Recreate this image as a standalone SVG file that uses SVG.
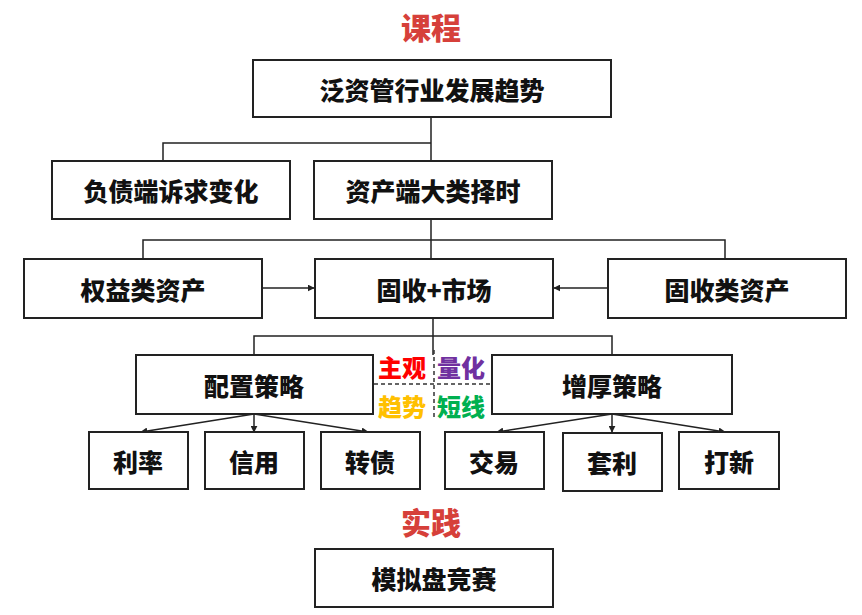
<svg xmlns="http://www.w3.org/2000/svg" width="862" height="615" viewBox="0 0 862 615">
<style>
.box{fill:#fff;stroke:#222;stroke-width:2}
.t{font-family:"Noto Sans CJK SC","Noto Sans",sans-serif;font-weight:900;font-size:25px;fill:#111;text-anchor:middle;dominant-baseline:central}
.h{font-family:"Noto Sans CJK SC","Noto Sans",sans-serif;font-weight:900;font-size:30px;fill:#d6403a;text-anchor:middle;dominant-baseline:central}
.c{font-family:"Noto Sans CJK SC","Noto Sans",sans-serif;font-weight:900;font-size:24px;text-anchor:middle;dominant-baseline:central}
.ln{fill:none;stroke:#222;stroke-width:1.5}
.ar{fill:none;stroke:#222;stroke-width:1.5;marker-end:url(#ah)}
.dash{fill:none;stroke:#333;stroke-width:1.5;stroke-dasharray:4,3}
</style>
<defs>
<marker id="ah" viewBox="0 0 10 10" refX="9" refY="5" markerWidth="7" markerHeight="7" markerUnits="userSpaceOnUse" orient="auto"><path d="M0,0 L10,5 L0,10 z" fill="#222"/></marker>
</defs>
<rect width="862" height="615" fill="#fff"/>
<text class="h" x="431" y="26">课程</text>
<text class="h" x="431" y="521">实践</text>
<g id="connectors">
<path class="ln" d="M431,117 V161 M163,161 V143 H431"/>
<path class="ln" d="M431,219 V259 M143,259 V240 H725 V259"/>
<path class="ar" d="M262,288 H314"/>
<path class="ar" d="M607,288 H554"/>
<path class="ln" d="M433,318 V355 M254,355 V336 H612 V355"/>
<path class="ar" d="M254,414 L141,432"/>
<path class="ar" d="M254,414 V432"/>
<path class="ar" d="M254,414 L368,432"/>
<path class="ar" d="M612,414 L497,432"/>
<path class="ar" d="M612,414 V432"/>
<path class="ar" d="M612,414 L725,432"/>
<path class="dash" d="M374,384 H491 M434,350 V418"/>
</g>
<g id="n-top"><rect class="box" x="253" y="60" width="358" height="57"/><text class="t" x="432" y="89">泛资管行业发展趋势</text></g>
<g id="n-liab"><rect class="box" x="52" y="161" width="238" height="58"/><text class="t" x="171" y="190">负债端诉求变化</text></g>
<g id="n-asset"><rect class="box" x="314" y="161" width="238" height="58"/><text class="t" x="433" y="190">资产端大类择时</text></g>
<g id="n-equity"><rect class="box" x="24" y="259" width="238" height="59"/><text class="t" x="143" y="289">权益类资产</text></g>
<g id="n-fiplus"><rect class="box" x="315" y="259" width="238" height="59"/><text class="t" x="434" y="289">固收+市场</text></g>
<g id="n-fi"><rect class="box" x="608" y="259" width="238" height="59"/><text class="t" x="727" y="289">固收类资产</text></g>
<g id="n-alloc"><rect class="box" x="136" y="355" width="237" height="59"/><text class="t" x="254" y="385">配置策略</text></g>
<g id="n-enh"><rect class="box" x="492" y="355" width="240" height="59"/><text class="t" x="612" y="385">增厚策略</text></g>
<g id="n-labels">
<text class="c" x="402" y="366" fill="#ff0000">主观</text>
<text class="c" x="461" y="366" fill="#7030a0">量化</text>
<text class="c" x="402" y="405" fill="#ffc000">趋势</text>
<text class="c" x="461" y="405" fill="#00b050">短线</text>
</g>
<g id="n-rate"><rect class="box" x="89" y="432" width="99" height="57"/><text class="t" x="138" y="461">利率</text></g>
<g id="n-credit"><rect class="box" x="205" y="432" width="99" height="57"/><text class="t" x="254" y="461">信用</text></g>
<g id="n-cb"><rect class="box" x="321" y="432" width="99" height="57"/><text class="t" x="370" y="461">转债</text></g>
<g id="n-trade"><rect class="box" x="445" y="432" width="99" height="57"/><text class="t" x="494" y="461">交易</text></g>
<g id="n-arb"><rect class="box" x="563" y="433" width="99" height="58"/><text class="t" x="612" y="462">套利</text></g>
<g id="n-ipo"><rect class="box" x="679" y="432" width="100" height="57"/><text class="t" x="729" y="461">打新</text></g>
<g id="n-sim"><rect class="box" x="315" y="549" width="238" height="58"/><text class="t" x="434" y="578">模拟盘竞赛</text></g>
</svg>
